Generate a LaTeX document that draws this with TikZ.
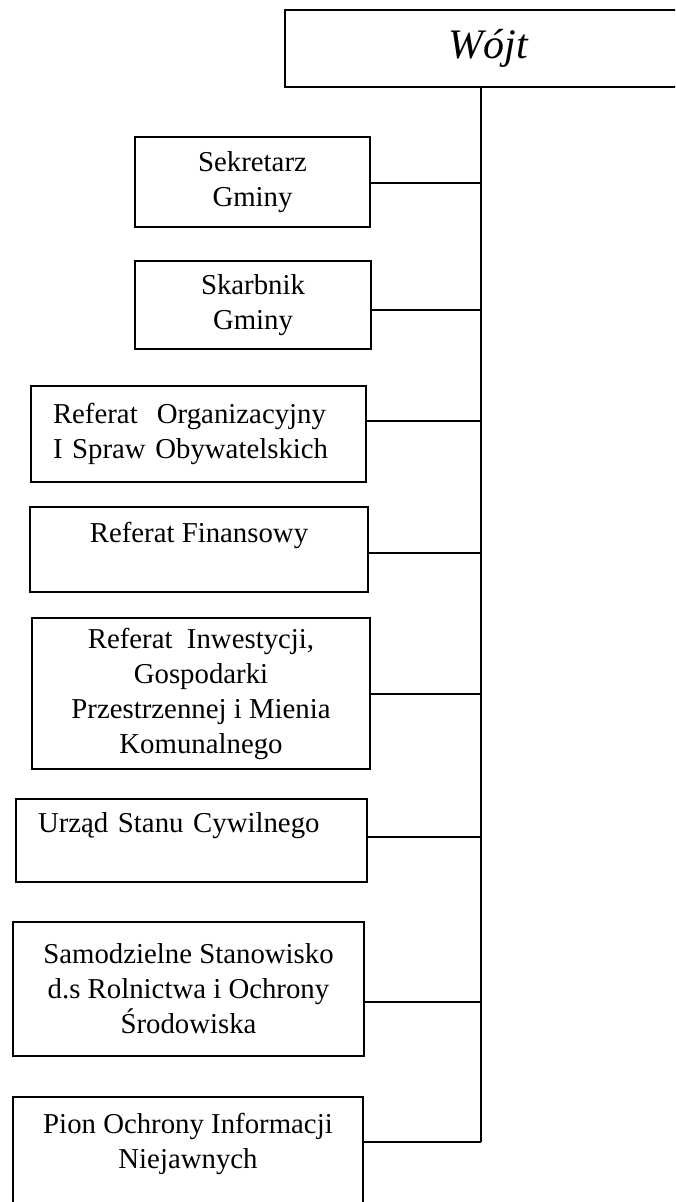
\documentclass[tikz,border=0pt]{standalone}
\usepackage{fontspec}
\setmainfont{Liberation Serif}
\usepackage{tikz}

\begin{document}
\begin{tikzpicture}[x=0.5pt, y=-0.5pt, line width=0.9pt,
  unit/.style={draw, align=center, inner sep=0pt,
    font=\fontsize{14.4}{17.5}\selectfont},
  head/.style={draw, inner sep=0pt, minimum width=203pt, minimum height=38.5pt,
    font=\fontsize{21}{25}\selectfont\itshape}]

  \useasboundingbox (0,0) rectangle (675,1202);
  \clip (0,0) rectangle (675,1202);

  % head of the office
  \node[head] (wojt) at (488,48.5) {Wójt};

  % units below
  \node[unit, minimum width=117.5pt, minimum height=45pt] (sek) at (252.5,182)
    {Sekretarz\\Gminy};
  \node[unit, minimum width=118pt, minimum height=44pt] (ska) at (253,305)
    {Skarbnik\\Gminy};
  \node[unit, align=left, text width=145.5pt, minimum width=167.5pt,
    minimum height=48pt] (org) at (198.5,434)
    {Referat\ \ Organizacyjny\\I Spraw Obywatelskich};
  \node[unit, minimum width=169pt, minimum height=42.5pt] (fin) at (199,549.5)
    {Referat Finansowy\\\mbox{}};
  \node[unit, minimum width=169pt, minimum height=75.5pt] (inw) at (201,693.5)
    {Referat\ \ Inwestycji,\\Gospodarki\\Przestrzennej i Mienia\\Komunalnego};
  \node[unit, align=left, text width=153.5pt, minimum width=175.5pt,
    minimum height=41.5pt] (usc) at (191.5,840.5)
    {Urząd Stanu Cywilnego\\\mbox{}};
  \node[unit, minimum width=175.5pt, minimum height=67pt] (sam) at (188.5,989)
    {Samodzielne Stanowisko\\d.s Rolnictwa i Ochrony\\Środowiska};
  \node[unit, minimum width=175pt, minimum height=61.2pt] (pion) at (188,1158.2)
    {Pion Ochrony Informacji\\Niejawnych\\\mbox{}};

  % trunk
  \coordinate (t1) at (481,183);
  \coordinate (t2) at (481,310);
  \coordinate (t3) at (481,421);
  \coordinate (t4) at (481,553);
  \coordinate (t5) at (481,694);
  \coordinate (t6) at (481,837);
  \coordinate (t7) at (481,1002);
  \coordinate (t8) at (481,1142);

  \draw (wojt.south -| t1) -- (t8);
  \foreach \t/\u in {t1/sek, t2/ska, t3/org, t4/fin, t5/inw, t6/usc, t7/sam, t8/pion}
    \draw (\t) -- (\t -| \u.east);
\end{tikzpicture}
\end{document}
